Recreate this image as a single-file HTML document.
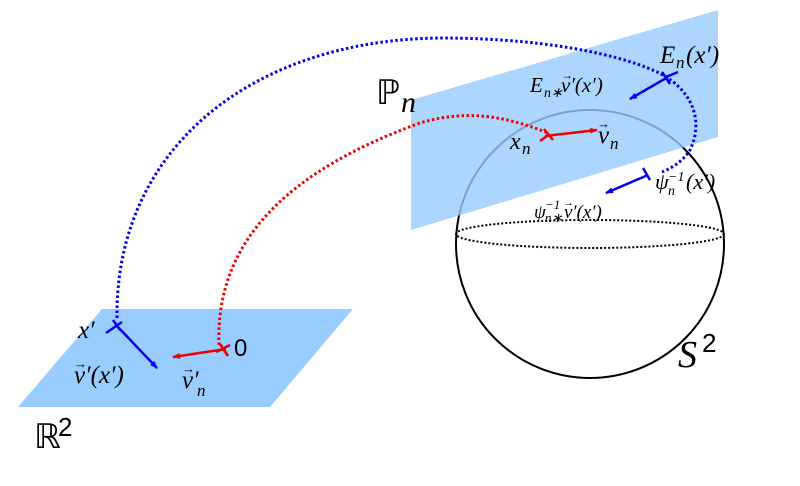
<!DOCTYPE html>
<html><head><meta charset="utf-8"><style>
html,body{margin:0;padding:0;background:#fff;}
svg{display:block}
text{font-family:"Liberation Serif",serif;font-style:italic;fill:#000}
.r{font-family:"Liberation Sans",sans-serif;font-style:normal}
.u{font-style:normal}
</style></head><body>
<svg width="800" height="486" viewBox="0 0 800 486" xmlns="http://www.w3.org/2000/svg">
<defs>
<marker id="ab" markerWidth="8" markerHeight="6" refX="7" refY="3" orient="auto" markerUnits="userSpaceOnUse"><path d="M0,0 L8,3 L0,6 Z" fill="#0000ee"/></marker>
<marker id="ar" markerWidth="8" markerHeight="6" refX="7" refY="3" orient="auto" markerUnits="userSpaceOnUse"><path d="M0,0 L8,3 L0,6 Z" fill="#ee0000"/></marker>
</defs>
<polygon points="102,309 353,309 270,407 18,407" fill="#99ccff"/>
<circle cx="590" cy="244" r="134" fill="none" stroke="#000" stroke-width="2"/>
<ellipse cx="590" cy="234" rx="134" ry="14" fill="none" stroke="#000" stroke-width="2" stroke-dasharray="2,2"/>
<polygon points="411,100 718,10 718,137 411,230" fill="#99ccff" fill-opacity="0.8"/>
<path d="M117,318 C115,150 250,40 440,38 C560,38 640,60 668,78 C700,100 700,130 690,150 C682,162 672,168 662,172" fill="none" stroke="#0000ee" stroke-width="3" stroke-dasharray="2.5,2.5"/>
<path d="M219,345 C215,240 290,170 420,123 C470,108 510,118 548,133" fill="none" stroke="#ee0000" stroke-width="3" stroke-dasharray="2.5,2.5"/>
<line x1="117" y1="326" x2="157" y2="368" stroke="#0000ee" stroke-width="2.5" marker-end="url(#ab)"/>
<line x1="106" y1="333" x2="122" y2="322" stroke="#0000ee" stroke-width="2.5"/>
<line x1="113" y1="320" x2="120" y2="330" stroke="#0000ee" stroke-width="2.5"/>
<line x1="226" y1="349" x2="173" y2="357" stroke="#ee0000" stroke-width="2.5" marker-end="url(#ar)"/>
<line x1="220" y1="344" x2="228" y2="356" stroke="#ee0000" stroke-width="2.5"/>
<line x1="216" y1="352" x2="230" y2="345" stroke="#ee0000" stroke-width="2.5"/>
<line x1="545" y1="136" x2="597" y2="130" stroke="#ee0000" stroke-width="2.5" marker-end="url(#ar)"/>
<line x1="540" y1="141" x2="547" y2="136" stroke="#ee0000" stroke-width="2.5"/>
<line x1="544" y1="129" x2="553" y2="140" stroke="#ee0000" stroke-width="2.5"/>
<line x1="668" y1="77" x2="630" y2="99" stroke="#0000ee" stroke-width="2.5" marker-end="url(#ab)"/>
<line x1="662" y1="72" x2="670" y2="84" stroke="#0000ee" stroke-width="2.5"/>
<line x1="666" y1="77" x2="678" y2="72" stroke="#0000ee" stroke-width="2.5"/>
<line x1="648" y1="175" x2="606" y2="193" stroke="#0000ee" stroke-width="2.5" marker-end="url(#ab)"/>
<line x1="643" y1="168" x2="650" y2="180" stroke="#0000ee" stroke-width="2.5"/>
<text x="78" y="338" font-size="25">x′</text>
<text x="74" y="383" font-size="25">v′(x′)</text>
<text class="u" x="74" y="368" font-size="13">→</text>
<text x="182" y="388" font-size="25">v′</text>
<text x="197" y="396" font-size="17">n</text>
<text class="u" x="182" y="373" font-size="13">→</text>
<text class="r" x="234" y="356" font-size="24">0</text>
<text class="u" x="34" y="448" font-size="34">ℝ</text>
<text class="r" x="58" y="436" font-size="26">2</text>
<text class="u" x="376" y="104" font-size="34">ℙ</text>
<text x="401" y="112" font-size="30">n</text>
<text x="660" y="63" font-size="25">E</text>
<text x="676" y="68" font-size="17">n</text>
<text x="686" y="63" font-size="25">(x′)</text>
<text x="530" y="92" font-size="21">E</text>
<text x="544" y="97" font-size="14">n∗</text>
<text x="561" y="92" font-size="21">v′(x′)</text>
<text class="u" x="561" y="79" font-size="12">→</text>
<text x="510" y="149" font-size="24">x</text>
<text x="522" y="154" font-size="17">n</text>
<text x="598" y="143" font-size="25">v</text>
<text x="610" y="149" font-size="17">n</text>
<text class="u" x="597" y="128" font-size="13">→</text>
<text x="655" y="189" font-size="22">ψ</text>
<text x="668" y="195" font-size="14">n</text>
<text x="668" y="181" font-size="14">−1</text>
<text x="686" y="189" font-size="22">(x′)</text>
<text x="534" y="218" font-size="19">ψ</text>
<text x="545" y="222" font-size="13">n∗</text>
<text x="545" y="209" font-size="13">−1</text>
<text x="564" y="218" font-size="19">v′(x′)</text>
<text class="u" x="563" y="206" font-size="11">→</text>
<text x="678" y="367" font-size="38">S</text>
<text class="r" x="702" y="352" font-size="26">2</text>
</svg>
</body></html>
